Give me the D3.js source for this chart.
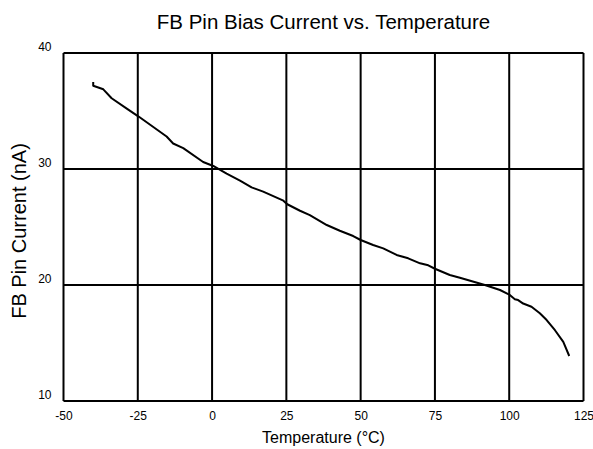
<!DOCTYPE html>
<html><head><meta charset="utf-8">
<script src="https://cdn.jsdelivr.net/npm/d3@7"></script>
<style>body{margin:0;background:#fff}svg{display:block}text{font-family:"Liberation Sans",Arial,sans-serif;fill:#000}</style>
</head><body>
<svg id="c" width="593" height="449"></svg>
<script>
const temps = [-40,-40,-36.6,-33.8,-28.7,-24.6,-15.3,-13.1,-9.7,-3.0,0.4,4.9,9.4,13.3,17.2,24.0,25.3,29.6,32.9,38.6,43.0,47.5,50.0,54.2,57.6,62.1,66,70.0,72.75,75,80,83.4,91.8,96.9,100.2,101.9,103,104.7,107.5,110.3,112.6,115.4,118.2,120.2];
const current = [37.5,37.18,36.87,36.1,35.2,34.5,32.8,32.2,31.8,30.6,30.26,29.6,29.0,28.42,28.05,27.27,26.96,26.4,26.03,25.17,24.68,24.22,23.88,23.45,23.16,22.59,22.3,21.87,21.7,21.4,20.86,20.63,20.0,19.57,19.14,18.77,18.7,18.4,18.13,17.56,16.98,16.1,15.1,13.88];
const xTicks = [-50,-25,0,25,50,75,100,125];
const yTicks = [10,20,30,40];

const svg = d3.select('#c');
const L=63.5, R=583.5, T=53, B=401;
const FONT='"Liberation Sans",Arial,sans-serif';
const x = d3.scaleLinear().domain([-50,125]).range([L,R]);
const y = d3.scaleLinear().domain([10,40]).range([B,T]);

const g = svg.append('g');
g.selectAll('.vg').data(xTicks).join('line')
  .attr('x1',d=>x(d)).attr('x2',d=>x(d)).attr('y1',T).attr('y2',B)
  .attr('stroke','#000').attr('stroke-width',2);
g.selectAll('.hg').data(yTicks).join('line')
  .attr('y1',d=>y(d)).attr('y2',d=>y(d)).attr('x1',L).attr('x2',R)
  .attr('stroke','#000').attr('stroke-width',2);

const fmt = d => String(d);
const xa = svg.append('g').attr('transform',`translate(0,${B})`)
  .call(d3.axisBottom(x).tickValues(xTicks).tickSize(0).tickPadding(10).tickFormat(fmt));
xa.select('.domain').remove();
xa.selectAll('text').attr('font-size',12).attr('font-family',FONT);
const ya = svg.append('g').attr('transform',`translate(${L},0)`)
  .call(d3.axisLeft(y).tickValues(yTicks).tickSize(0).tickPadding(12).tickFormat(fmt));
ya.select('.domain').remove();
ya.selectAll('text').attr('font-size',12).attr('dy','-0.2em').attr('font-family',FONT);

const data = temps.map((t,i)=>[t,current[i]]);
svg.append('path').datum(data)
  .attr('d', d3.line().x(d=>x(d[0])).y(d=>y(d[1])))
  .attr('fill','none').attr('stroke','#000').attr('stroke-width',2).attr('stroke-linejoin','round');

svg.append('text').attr('x',(L+R)/2).attr('y',29).attr('text-anchor','middle').attr('font-size',20.5)
  .text('FB Pin Bias Current vs. Temperature');
svg.append('text').attr('x',(L+R)/2).attr('y',443).attr('text-anchor','middle').attr('font-size',16)
  .text('Temperature (°C)');
svg.append('text').attr('transform',`translate(26,${(T+B)/2 + 4}) rotate(-90)`).attr('text-anchor','middle').attr('font-size',20)
  .text('FB Pin Current (nA)');
</script>
</body></html>
